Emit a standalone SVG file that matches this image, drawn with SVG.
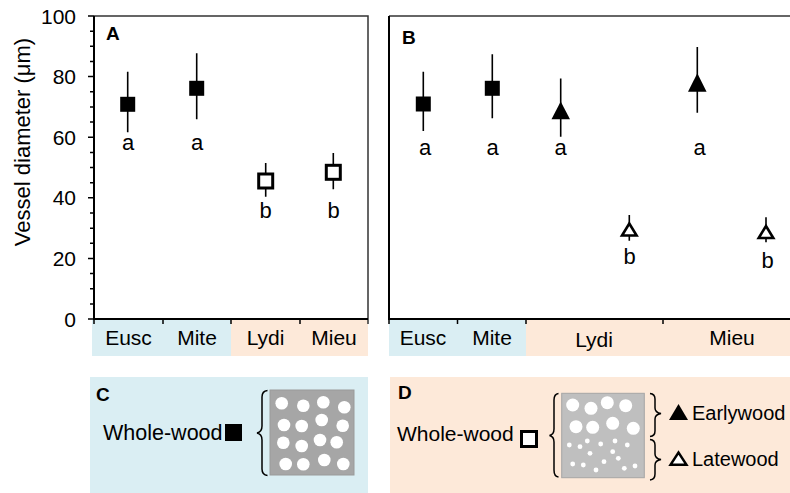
<svg xmlns="http://www.w3.org/2000/svg" width="790" height="493" viewBox="0 0 790 493">
<style>
text{font-family:"Liberation Sans",Arial,sans-serif;fill:#000}
.t{font-size:21px;text-anchor:end}
.lab{font-size:21px;text-anchor:middle}
.let{font-size:22px;text-anchor:middle}
.pl{font-size:19px;font-weight:bold}
.ax{stroke:#000;stroke-width:2;fill:none}
.fr{stroke:#333;stroke-width:1.5;fill:none}
.tk{stroke:#000;stroke-width:1.5}
.eb{stroke:#000;stroke-width:1.6}
.fs{fill:#000}
.os{fill:#fff;stroke:#000;stroke-width:3}
.br{fill:none;stroke:#000;stroke-width:1.5}
.c{fill:#fff}
</style>
<rect width="790" height="493" fill="#fff"/>
<g id="bands">
<rect x="92" y="320" width="139" height="36" fill="#DAEEF3"/>
<rect x="231" y="320" width="137" height="36" fill="#FDE9D9"/>
<rect x="389" y="320" width="137" height="36" fill="#DAEEF3"/>
<rect x="526" y="320" width="264" height="36" fill="#FDE9D9"/>
</g>
<g id="axis-y">
<text class="t" x="76" y="23.5">100</text>
<text class="t" x="76" y="84">80</text>
<text class="t" x="76" y="144.5">60</text>
<text class="t" x="76" y="205">40</text>
<text class="t" x="76" y="266">20</text>
<text class="t" x="76" y="326.5">0</text>
<text style="font-size:22px" transform="translate(30,142) rotate(-90)" text-anchor="middle">Vessel diameter (μm)</text>
<path class="tk" d="M88 16H94M88 76.6H94M88 137.2H94M88 197.8H94M88 258.4H94M88 319H94"/>
<path class="tk" d="M90 31.2H94M90 46.3H94M90 61.5H94M90 91.8H94M90 107H94M90 122.1H94M90 152.4H94M90 167.5H94M90 182.7H94M90 213H94M90 228.2H94M90 243.3H94M90 273.6H94M90 288.8H94M90 303.9H94"/>
</g>
<g id="panelA">
<path class="fr" d="M94 16H368V324"/>
<path class="ax" d="M94 16V319H368"/>
<path class="tk" d="M94 319V324M163 319V324M231 319V324M300 319V324"/>
<text class="pl" x="106" y="39.5">A</text>
<text class="lab" x="128.5" y="345">Eusc</text>
<text class="lab" x="197" y="345">Mite</text>
<text class="lab" x="265.5" y="345">Lydi</text>
<text class="lab" x="334" y="345">Mieu</text>
</g>
<g id="panelB">
<path class="fr" d="M389 16H790"/>
<path class="ax" d="M389 16V319H790"/>
<path class="tk" d="M389 319V324M457.5 319V324M526 319V324M663 319V324"/>
<text class="pl" x="402" y="43.5">B</text>
<text class="lab" x="423" y="345">Eusc</text>
<text class="lab" x="492" y="345">Mite</text>
<text class="lab" x="594" y="347">Lydi</text>
<text class="lab" x="732" y="345">Mieu</text>
</g>
<g id="errorbars">
<path class="eb" d="M127.7 71.7V132.3M196.7 53.3V119.3M265.7 163V196.7M333.3 153V189.3"/>
<path class="eb" d="M423.3 71.7V131M492.3 54.3V118.3M560.7 78.5V136.7M629.3 215V240.7M697.3 47V112.7M766 217.3V242.3"/>
</g>
<g id="markersA">
<rect class="fs" x="120.2" y="96.8" width="15" height="15"/>
<rect class="fs" x="189.2" y="80.8" width="15" height="15"/>
<rect class="os" x="258.7" y="174" width="14" height="14"/>
<rect class="os" x="326.3" y="165.3" width="14" height="14"/>
</g>
<g id="markersB">
<rect class="fs" x="415.8" y="96.5" width="15" height="15"/>
<rect class="fs" x="484.8" y="80.8" width="15" height="15"/>
<polygon class="fs" points="551.5,119.3 570,119.3 560.7,101.5"/>
<polygon class="fs" points="688,91.7 706.6,91.7 697.3,73.3"/>
<polygon class="os" style="stroke-width:2.6" points="622,235.5 636.6,235.5 629.3,223.5"/>
<polygon class="os" style="stroke-width:2.6" points="758.7,238 773.3,238 766,226"/>
</g>
<g id="lettersA">
<text class="let" x="128" y="150">a</text>
<text class="let" x="197" y="150">a</text>
<text class="let" x="265.5" y="218">b</text>
<text class="let" x="333.5" y="218">b</text>
</g>
<g id="lettersB">
<text class="let" x="425" y="155">a</text>
<text class="let" x="492.5" y="155">a</text>
<text class="let" x="560.5" y="155">a</text>
<text class="let" x="699.5" y="155">a</text>
<text class="let" x="629.5" y="264">b</text>
<text class="let" x="767.5" y="268">b</text>
</g>
<g id="panelC">
<rect x="90" y="377" width="278" height="116" fill="#DAEEF3"/>
<text class="pl" x="96" y="400.5">C</text>
<text style="font-size:21.5px" x="103" y="440">Whole-wood</text>
<rect class="fs" x="225" y="424" width="17" height="17"/>
<path class="br" d="M267.5 390.5Q262 391 262 397V426Q262 432 257 433Q262 434 262 440V469Q262 475 267.5 475.5"/>
<rect x="270" y="390" width="84" height="85" fill="#A6A6A6" stroke="#9A9A9A"/>
<g class="c">
<circle cx="281.7" cy="403.3" r="6.3"/><circle cx="303.3" cy="405.7" r="6.3"/><circle cx="323.3" cy="402.3" r="6.3"/><circle cx="344.3" cy="407.3" r="6.3"/>
<circle cx="284" cy="425" r="6.3"/><circle cx="301.7" cy="426" r="6.3"/><circle cx="321.7" cy="420" r="6.3"/><circle cx="342.7" cy="425.7" r="6.3"/>
<circle cx="283.3" cy="442.7" r="6.3"/><circle cx="301.7" cy="446" r="6.3"/><circle cx="320" cy="440" r="6.3"/><circle cx="336.7" cy="442.3" r="6.3"/>
<circle cx="285.7" cy="464" r="6.3"/><circle cx="303.3" cy="464.3" r="6.3"/><circle cx="324.3" cy="460" r="6.3"/><circle cx="343.3" cy="464" r="6.3"/>
</g>
</g>
<g id="panelD">
<rect x="390" y="377" width="400" height="116" fill="#FDE9D9"/>
<text class="pl" x="398" y="398.5">D</text>
<text style="font-size:21px" x="397" y="441">Whole-wood</text>
<rect class="os" x="521.5" y="431.5" width="15" height="15"/>
<path class="br" d="M558.5 393.5Q554 394 554 400V429Q554 434.5 549.5 435.5Q554 436.5 554 442V470Q554 476.5 558.5 477"/>
<rect x="561.7" y="393.3" width="82.6" height="84.4" fill="#BFBFBF" stroke="#A6A6A6"/>
<g class="c">
<circle cx="572.7" cy="405" r="6.5"/><circle cx="591" cy="408.3" r="6.5"/><circle cx="607.3" cy="402.7" r="6.5"/><circle cx="625.7" cy="405.7" r="6.5"/>
<circle cx="576" cy="426.7" r="6.5"/><circle cx="592.7" cy="427.3" r="6.5"/><circle cx="612.7" cy="423.3" r="6.5"/><circle cx="633.3" cy="428.3" r="6.5"/>
</g>
<g class="c">
<circle cx="569.3" cy="445" r="2.4"/><circle cx="580" cy="446.7" r="2.4"/><circle cx="587.3" cy="441" r="2.4"/><circle cx="600.7" cy="444" r="2.4"/><circle cx="615" cy="441" r="2.4"/><circle cx="627.3" cy="445" r="2.4"/>
<circle cx="590" cy="453.3" r="2.4"/><circle cx="612.7" cy="451.7" r="2.4"/>
<circle cx="572.7" cy="464" r="2.4"/><circle cx="583.3" cy="465" r="2.4"/><circle cx="604" cy="461.7" r="2.4"/><circle cx="618.3" cy="458.3" r="2.4"/><circle cx="596" cy="470" r="2.4"/><circle cx="624.3" cy="468.3" r="2.4"/><circle cx="635" cy="466" r="2.4"/>
</g>
<path class="br" d="M650 393.5Q655 394 655 399V408Q655 412.5 661 413.5Q655 414.5 655 419V431Q655 436 650 436.5"/>
<path class="br" d="M650 439.5Q655 440 655 445V454Q655 458.5 661 459.5Q655 460.5 655 465V474Q655 479.5 650 480"/>
<polygon class="fs" points="669,420 688,420 678.5,404"/>
<text style="font-size:20px" x="692" y="420">Earlywood</text>
<polygon class="os" style="stroke-width:2.4" points="670.5,464.8 686.5,464.8 678.5,452.5"/>
<text style="font-size:20px" x="692" y="466">Latewood</text>
</g>
</svg>
